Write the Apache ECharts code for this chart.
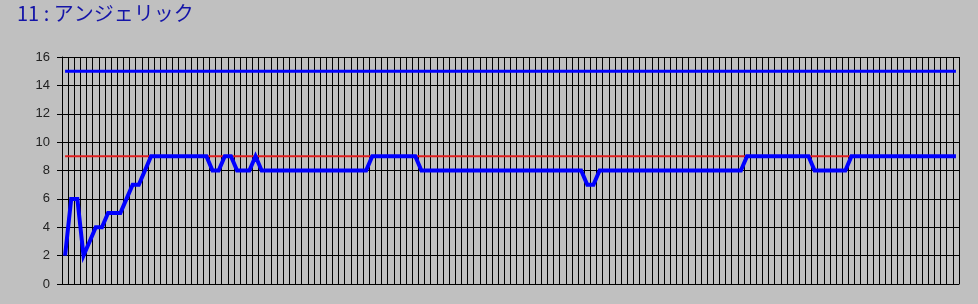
<!DOCTYPE html>
<html><head><meta charset="utf-8">
<script src="https://cdn.jsdelivr.net/npm/echarts@6/dist/echarts.min.js"></script>
<style>html,body{margin:0;padding:0;background:#c0c0c0;}#c{width:978px;height:304px;}</style>
</head><body><div id="c"></div>
<script>
const titleText = '11 : アンジェリック';
const yTicks = [0, 2, 4, 6, 8, 10, 12, 14, 16];
const valuesMain = [
  2, 6, 6, 2, 3, 4, 4, 5, 5, 5, 6, 7, 7, 8, 9, 9, 9, 9, 9, 9,
  9, 9, 9, 9, 8, 8, 9, 9, 8, 8, 8, 9, 8, 8, 8, 8, 8, 8, 8, 8,
  8, 8, 8, 8, 8, 8, 8, 8, 8, 8, 9, 9, 9, 9, 9, 9, 9, 9, 8, 8,
  8, 8, 8, 8, 8, 8, 8, 8, 8, 8, 8, 8, 8, 8, 8, 8, 8, 8, 8, 8,
  8, 8, 8, 8, 8, 7, 7, 8, 8, 8, 8, 8, 8, 8, 8, 8, 8, 8, 8, 8,
  8, 8, 8, 8, 8, 8, 8, 8, 8, 8, 8, 9, 9, 9, 9, 9, 9, 9, 9, 9,
  9, 9, 8, 8, 8, 8, 8, 8, 9, 9, 9, 9, 9, 9, 9, 9, 9, 9, 9, 9,
  9, 9, 9, 9, 9, 9
];
const upperLevel = 15;
const refLevel = 9;
const categories = valuesMain.map((_, i) => String(i + 1));
const upperValues = categories.map(() => upperLevel);
const refValues = categories.map(() => refLevel);

const chart = echarts.init(document.getElementById('c'), null, {renderer: 'canvas'});
chart.setOption({
  backgroundColor: '#c0c0c0',
  animation: false,
  title: {
    text: titleText, left: 17, top: 3, padding: 0,
    textStyle: {color: '#1414a8', fontSize: 20, fontWeight: 'normal', fontFamily: 'Noto Sans CJK JP'}
  },
  grid: {left: 62, right: 19, top: 57, bottom: 20, containLabel: false},
  xAxis: {
    type: 'category', data: categories, boundaryGap: true,
    axisLine: {show: true, lineStyle: {color: '#000', width: 1}},
    axisTick: {show: false}, axisLabel: {show: false},
    splitLine: {show: true, interval: 0, lineStyle: {color: '#000', width: 1}}
  },
  yAxis: {
    type: 'value', min: yTicks[0], max: yTicks[yTicks.length - 1], interval: 2,
    axisLine: {show: true, lineStyle: {color: '#000', width: 1}},
    axisTick: {show: true, length: 5, lineStyle: {color: '#000'}},
    axisLabel: {color: '#222', fontSize: 13, margin: 12, fontFamily: 'Liberation Sans'},
    splitLine: {show: true, lineStyle: {color: '#000', width: 1}}
  },
  series: [
    {type: 'line', data: refValues, symbol: 'none', lineStyle: {color: '#e02020', width: 2}, z: 2},
    {type: 'line', data: upperValues, symbol: 'none', lineStyle: {color: '#0000ff', width: 3, cap: 'butt'}, z: 3},
    {type: 'line', data: valuesMain, symbol: 'none', lineStyle: {color: '#0000ff', width: 4, join: 'miter', cap: 'butt'}, z: 4}
  ]
});
</script></body></html>
